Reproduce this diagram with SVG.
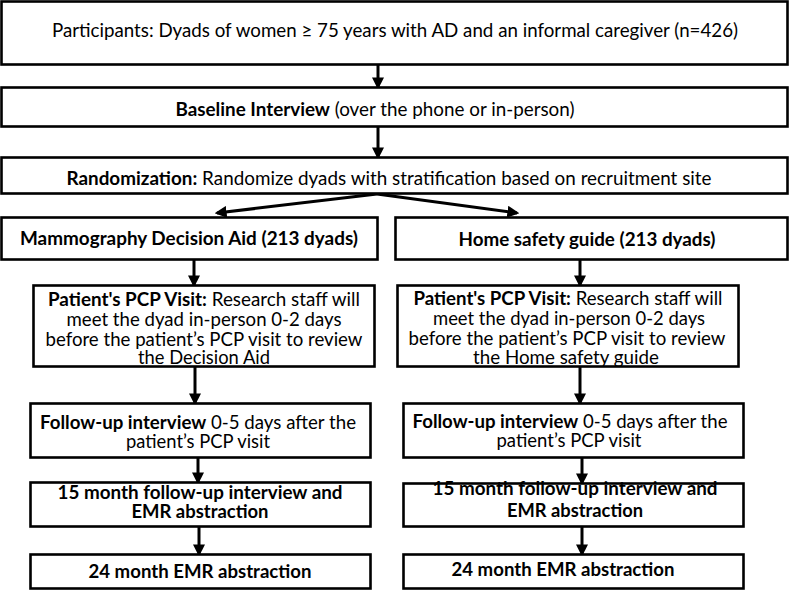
<svg xmlns="http://www.w3.org/2000/svg" width="790" height="591" viewBox="0 0 790 591">
<style>
.box{fill:#fff;stroke:#000;stroke-width:2.6}
.t{font-family:Lato,"Open Sans","Liberation Sans",sans-serif;font-size:18.5px;fill:#000;text-anchor:middle}
.b{font-weight:bold}
.c{stroke:#000;stroke-width:3;fill:none}
</style>
<defs>
<marker id="ah" markerWidth="4" markerHeight="4" refX="3.2" refY="2" orient="auto" markerUnits="strokeWidth">
<path d="M0,0 L4,2 L0,4 Z" fill="#000"/>
</marker>
</defs>
<rect width="790" height="591" fill="#fff"/>
<g id="connectors">
<line class="c" x1="378" y1="65" x2="378" y2="87" marker-end="url(#ah)"/>
<line class="c" x1="378" y1="127" x2="378" y2="157" marker-end="url(#ah)"/>
<line class="c" x1="377" y1="194" x2="217" y2="213" marker-end="url(#ah)"/>
<line class="c" x1="377" y1="194" x2="517" y2="213" marker-end="url(#ah)"/>
<line class="c" x1="194" y1="260" x2="194" y2="285" marker-end="url(#ah)"/>
<line class="c" x1="580" y1="260" x2="580" y2="285" marker-end="url(#ah)"/>
<line class="c" x1="195" y1="367" x2="195" y2="403" marker-end="url(#ah)"/>
<line class="c" x1="580" y1="367" x2="580" y2="403" marker-end="url(#ah)"/>
<line class="c" x1="198" y1="457" x2="198" y2="482" marker-end="url(#ah)"/>
<line class="c" x1="582" y1="457" x2="582" y2="483" marker-end="url(#ah)"/>
<line class="c" x1="199" y1="527" x2="199" y2="554" marker-end="url(#ah)"/>
<line class="c" x1="582" y1="526" x2="582" y2="554" marker-end="url(#ah)"/>
</g>
<g id="participants">
<rect class="box" x="1.5" y="1.5" width="786" height="63"/>
<text class="t" x="395" y="37" textLength="686" lengthAdjust="spacingAndGlyphs">Participants: Dyads of women ≥ 75 years with AD and an informal caregiver (n=426)</text>
</g>
<g id="baseline">
<rect class="box" x="1.5" y="87.5" width="786" height="39"/>
<text class="t" x="375" y="116" textLength="399" lengthAdjust="spacingAndGlyphs"><tspan class="b">Baseline Interview</tspan> (over the phone or in-person)</text>
</g>
<g id="randomization">
<rect class="box" x="1.5" y="157.5" width="786" height="36"/>
<text class="t" x="389" y="185" textLength="645" lengthAdjust="spacingAndGlyphs"><tspan class="b">Randomization:</tspan> Randomize dyads with stratification based on recruitment site</text>
</g>
<g id="mammography">
<rect class="box" x="1.5" y="217.5" width="376" height="42"/>
<text class="t b" x="189" y="245" textLength="338" lengthAdjust="spacingAndGlyphs">Mammography Decision Aid (213 dyads)</text>
</g>
<g id="homesafety">
<rect class="box" x="395.5" y="217.5" width="392" height="42"/>
<text class="t b" x="587" y="246" textLength="257" lengthAdjust="spacingAndGlyphs">Home safety guide (213 dyads)</text>
</g>
<g id="pcp-left">
<rect class="box" x="33.5" y="285.5" width="341" height="81"/>
<text class="t" x="204" y="306" textLength="312" lengthAdjust="spacingAndGlyphs"><tspan class="b">Patient's PCP Visit:</tspan> Research staff will</text>
<text class="t" x="204" y="326" textLength="275" lengthAdjust="spacingAndGlyphs">meet the dyad in-person 0-2 days</text>
<text class="t" x="204" y="346" textLength="317" lengthAdjust="spacingAndGlyphs">before the patient’s PCP visit to review</text>
<text class="t" x="204" y="364" textLength="132" lengthAdjust="spacingAndGlyphs">the Decision Aid</text>
</g>
<g id="pcp-right">
<rect class="box" x="397.5" y="285.5" width="341" height="81"/>
<text class="t" x="568" y="305" textLength="309" lengthAdjust="spacingAndGlyphs"><tspan class="b">Patient's PCP Visit:</tspan> Research staff will</text>
<text class="t" x="569" y="325" textLength="272" lengthAdjust="spacingAndGlyphs">meet the dyad in-person 0-2 days</text>
<text class="t" x="567" y="345" textLength="317" lengthAdjust="spacingAndGlyphs">before the patient’s PCP visit to review</text>
<text class="t" x="566" y="364" textLength="186" lengthAdjust="spacingAndGlyphs">the Home safety guide</text>
</g>
<g id="followup-left">
<rect class="box" x="30.5" y="403.5" width="340" height="54"/>
<text class="t" x="198" y="429" textLength="316" lengthAdjust="spacingAndGlyphs"><tspan class="b">Follow-up interview</tspan> 0-5 days after the</text>
<text class="t" x="198" y="448" textLength="144" lengthAdjust="spacingAndGlyphs">patient’s PCP visit</text>
</g>
<g id="followup-right">
<rect class="box" x="403.5" y="403.5" width="340" height="54"/>
<text class="t" x="570" y="428" textLength="315" lengthAdjust="spacingAndGlyphs"><tspan class="b">Follow-up interview</tspan> 0-5 days after the</text>
<text class="t" x="569" y="447" textLength="145" lengthAdjust="spacingAndGlyphs">patient’s PCP visit</text>
</g>
<g id="month15-left">
<rect class="box" x="30.5" y="482.5" width="340" height="44"/>
<text class="t b" x="200" y="499" textLength="285" lengthAdjust="spacingAndGlyphs">15 month follow-up interview and</text>
<text class="t b" x="200" y="518" textLength="137" lengthAdjust="spacingAndGlyphs">EMR abstraction</text>
</g>
<g id="month15-right">
<rect class="box" x="403.5" y="483.5" width="340" height="43"/>
<text class="t b" x="575" y="495" textLength="285" lengthAdjust="spacingAndGlyphs">15 month follow-up interview and</text>
<text class="t b" x="575" y="517" textLength="136" lengthAdjust="spacingAndGlyphs">EMR abstraction</text>
</g>
<g id="month24-left">
<rect class="box" x="30.5" y="554.5" width="340" height="34"/>
<text class="t b" x="200" y="578" textLength="223" lengthAdjust="spacingAndGlyphs">24 month EMR abstraction</text>
</g>
<g id="month24-right">
<rect class="box" x="403.5" y="554.5" width="340" height="34"/>
<text class="t b" x="563" y="576" textLength="223" lengthAdjust="spacingAndGlyphs">24 month EMR abstraction</text>
</g>
</svg>
